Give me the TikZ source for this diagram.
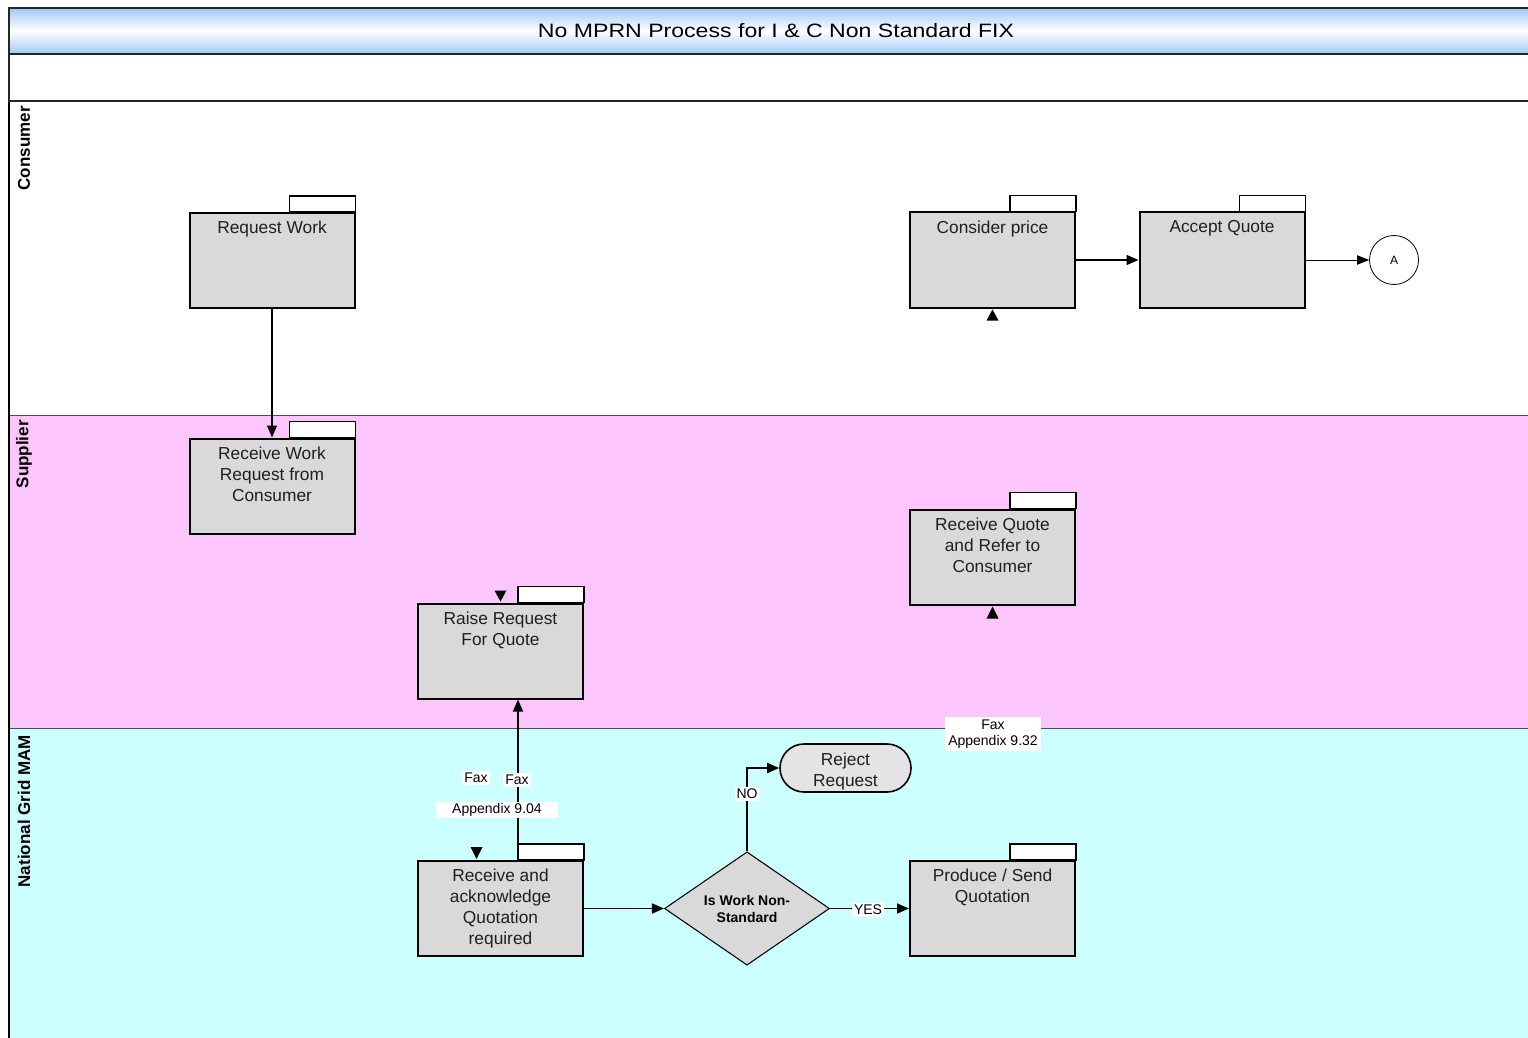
\documentclass[tikz,border=0pt]{standalone}
\usepackage{fontspec}
\usepackage{graphicx}
\setmainfont{Liberation Sans}
\usetikzlibrary{shapes.geometric,arrows.meta,calc}
\definecolor{pinkl}{RGB}{252,198,252}
\definecolor{cyanl}{RGB}{204,255,255}
\definecolor{boxg}{RGB}{217,217,217}
\definecolor{rejg}{RGB}{228,228,228}
\definecolor{titleb}{RGB}{160,200,245}
\newcommand\mkbox[3]{%
  \node[box] (#1) at (#2) {};
  \node[boxtext] (#1t) at ($(#1.north)+(0,9)$) {#3};
  \draw[tabbox] ($(#1.north east)+(-66,0)$) rectangle ($(#1.north east)+(0,-16)$);
}
\begin{document}
\begin{tikzpicture}[x=0.75pt,y=-0.75pt,
  box/.style={draw=black,line width=1.5pt,fill=boxg,minimum width=123.75pt,minimum height=71.25pt,inner sep=0pt},
  boxtext/.style={anchor=north,align=center,font=\fontsize{13}{15.75}\selectfont,inner sep=0pt,text=black!88},
  tabbox/.style={draw=black,line width=0.8pt,fill=white},
  conn/.style={line width=1.2pt,-{Triangle[length=9pt,width=7.5pt]}},
  lbl/.style={fill=white,font=\fontsize{10.5}{12}\selectfont,inner sep=1.5pt},
  lanelbl/.style={font=\bfseries\fontsize{12.75}{14}\selectfont,rotate=90,anchor=east,inner sep=0pt}]
\useasboundingbox (0,0) rectangle (1528,1038);
\clip (0,0) rectangle (1528,1038);
\fill[white] (0,0) rectangle (1528,1038);
% lanes
\fill[white] (9,101) rectangle (1540,415);
\fill[pinkl] (9,415) rectangle (1540,728);
\fill[cyanl] (9,728) rectangle (1540,1040);
\draw[black!70,line width=0.6pt] (9,415) -- (1540,415);
\draw[black!70,line width=0.6pt] (9,728) -- (1540,728);
\draw[black,line width=0.8pt] (9,101) -- (9,1040);
% title
\shade[top color=titleb,bottom color=titleb,middle color=white] (9,8) rectangle (1540,54);
\draw[black!85,line width=1.4pt] (9,8) rectangle (1540,101);
\draw[black!85,line width=1.4pt] (9,54) -- (1540,54);
\node[inner sep=0pt,font=\fontsize{14.5}{16}\selectfont] (title) at (776,31)
  {\resizebox{357pt}{\height}{No MPRN Process for I \& C Non Standard FIX}};
% lane labels
\node[lanelbl] (lc) at (24,106) {Consumer};
\node[lanelbl] (ls) at (24,420) {Supplier};
\node[lanelbl] (ln) at (24,735) {National Grid MAM};
% boxes
\mkbox{rw}{272,260.5}{Request Work}
\mkbox{rwr}{272,486}{Receive Work\\Request from\\Consumer}
\mkbox{rrq}{500.5,651}{Raise Request\\For Quote}
\mkbox{rak}{500.5,908.5}{Receive and\\acknowledge\\Quotation\\required}
\mkbox{cp}{992.5,260}{Consider price}
\mkbox{aq}{1222,260}{Accept Quote}
\mkbox{rq}{992.5,557}{Receive Quote\\and Refer to\\Consumer}
\mkbox{ps}{992.5,908.5}{Produce / Send\\Quotation}
% other shapes
\node[draw,line width=1.2pt,fill=rejg,rounded corners=18pt,minimum width=98.25pt,minimum height=36pt,
  inner sep=0pt] (rej) at (845.5,768) {};
\node[align=center,inner sep=0pt,font=\fontsize{13}{15.75}\selectfont,text=black!88] (rejt) at ($(rej.center)+(0,4)$) {Reject\\Request};
\node[diamond,draw,line width=0.8pt,fill=boxg,minimum width=123.75pt,minimum height=81pt,inner sep=0pt,
  align=center,font=\bfseries\fontsize{10.5}{12.75}\selectfont] (dia) at (747,908.5) {Is Work Non-\\Standard};
\node[circle,draw,line width=0.6pt,fill=white,minimum size=36.75pt,inner sep=0pt,font=\fontsize{9}{10}\selectfont] (A) at (1394,260) {A};
% small triangle markers
\fill ($(rrq.north)+(-6,-12)$) -- ($(rrq.north)+(6,-12)$) -- ($(rrq.north)+(0,-1)$) -- cycle;
\fill ($(rak.north)+(-30,-13)$) -- ($(rak.north)+(-18,-13)$) -- ($(rak.north)+(-24,-1)$) -- cycle;
\fill ($(cp.south)+(-6,12)$) -- ($(cp.south)+(6,12)$) -- ($(cp.south)+(0,1)$) -- cycle;
\fill ($(rq.south)+(-6,13)$) -- ($(rq.south)+(6,13)$) -- ($(rq.south)+(0,1)$) -- cycle;
% connectors
\draw[conn] (rw.south) -- (rwr.north);
\draw[conn] (cp.east) -- (aq.west);
\draw[line width=0.6pt,-{Triangle[length=9pt,width=7pt]}] (aq.east) -- (A.west);
\draw[conn] ($(rak.north east)+(-66,0)$) -- ($(rrq.south east)+(-66,0)$);
\draw[conn] (rak.east) -- (dia.west);
\draw[conn] (dia.east) -- (ps.west);
\draw[conn] (dia.north) |- (rej.west);
% labels
\node[lbl] (fax1) at (476,778) {Fax};
\node[lbl] (fax2) at (517,780) {Fax};
\node[lbl,minimum width=91.5pt,inner sep=1pt] (app1) at (497,810) {Appendix 9.04};
\node[lbl,align=center,minimum width=72pt,inner sep=2pt] (app2) at (993,734) {Fax\\Appendix 9.32};
\node[lbl] (yes) at (868,910) {YES};
\node[lbl] (no) at (747,794) {NO};
\end{tikzpicture}
\end{document}
